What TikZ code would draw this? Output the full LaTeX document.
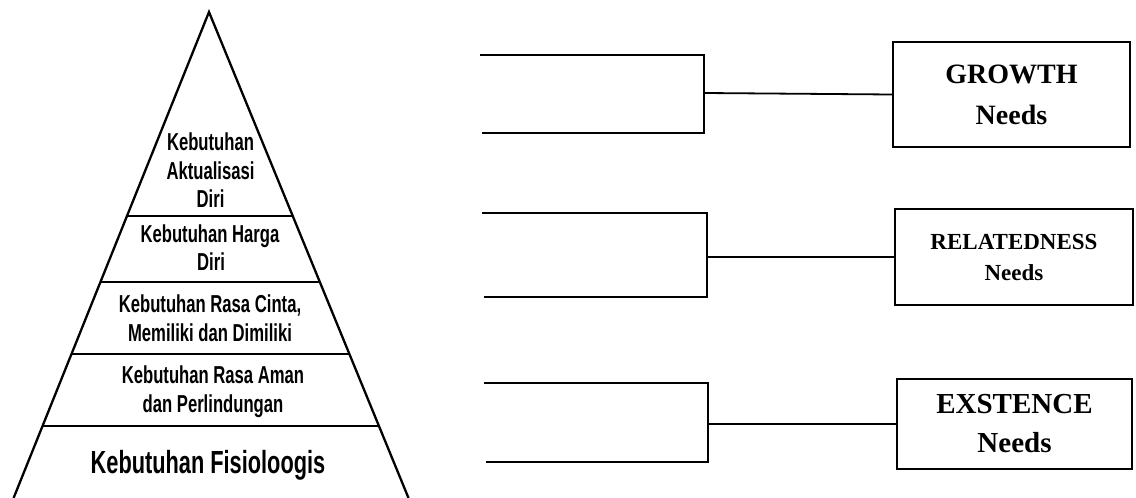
\documentclass[tikz,border=0pt]{standalone}
\usepackage{fontspec}
\setmainfont{Liberation Serif}
\newfontfamily\agency[FakeStretch=0.68]{Liberation Sans Bold}
\usetikzlibrary{calc}
\begin{document}
\begin{tikzpicture}[x=1pt,y=-1pt,line width=2.3pt,
  lvl/.style={font=\agency\fontsize{24.5}{28}\selectfont,anchor=base,inner sep=0pt},
  lvlbig/.style={font=\agency\fontsize{32}{36}\selectfont,anchor=base,inner sep=0pt},
  needbox/.style={draw,line width=2.3pt,inner sep=0pt,align=center},
  brk/.style={line width=2.5pt},
  conn/.style={line width=1.8pt}]
\useasboundingbox (0,0) rectangle (1136,498);
\begin{scope}
\clip (0,0) rectangle (1136,498);
% pyramid
\coordinate (apex) at (209,12);
\coordinate (bl) at (13.6,498);
\coordinate (br) at (408.5,498);
\draw (bl) -- (apex) -- (br);
\foreach \t in {0.4198,0.5556,0.7037,0.8519}
  \draw ($(apex)!\t!(bl)$) -- ($(apex)!\t!(br)$);
\end{scope}
\node[lvl] (t1a) at (210.5,150) {Kebutuhan};
\node[lvl] (t1b) at (210.5,179) {Aktualisasi};
\node[lvl] (t1c) at (210.5,207) {Diri};
\node[lvl] (t2a) at (210,242) {Kebutuhan Harga};
\node[lvl] (t2b) at (211,270) {Diri};
\node[lvl] (t3a) at (210,312) {Kebutuhan Rasa Cinta,};
\node[lvl] (t3b) at (210,341) {Memiliki dan Dimiliki};
\node[lvl] (t4a) at (213,383) {Kebutuhan Rasa Aman};
\node[lvl] (t4b) at (213,412) {dan Perlindungan};
\node[lvlbig] (t5) at (208,473) {Kebutuhan Fisioloogis};
% boxes
\node[needbox,minimum width=237pt,minimum height=105pt,font=\bfseries\fontsize{28}{41}\selectfont] (grow) at (1011.5,94.5) {GROWTH\\Needs};
\node[needbox,minimum width=238pt,minimum height=96pt,font=\bfseries\fontsize{23}{31}\selectfont] (rel) at (1014,257) {RELATEDNESS\\Needs};
\node[needbox,minimum width=235pt,minimum height=90pt,font=\bfseries\fontsize{29}{39}\selectfont] (ex) at (1014.5,424) {EXSTENCE\\Needs};
% brackets
\coordinate (b1t) at (480,55);  \coordinate (b1c) at (704,55);
\coordinate (b1d) at (704,133); \coordinate (b1b) at (482,133);
\coordinate (b1m) at (705,93);
\draw[brk] (b1t) -- (b1c) -- (b1d) -- (b1b);
\draw[conn] (b1m) -- (grow.west);
\coordinate (b2t) at (482,213); \coordinate (b2c) at (707,213);
\coordinate (b2d) at (707,297); \coordinate (b2b) at (484,297);
\coordinate (b2m) at (708,257);
\draw[brk] (b2t) -- (b2c) -- (b2d) -- (b2b);
\draw[conn] (b2m) -- (rel.west);
\coordinate (b3t) at (484,383); \coordinate (b3c) at (708,383);
\coordinate (b3d) at (708,462); \coordinate (b3b) at (486,462);
\coordinate (b3m) at (709,424);
\draw[brk] (b3t) -- (b3c) -- (b3d) -- (b3b);
\draw[conn] (b3m) -- (ex.west);
\end{tikzpicture}
\end{document}
